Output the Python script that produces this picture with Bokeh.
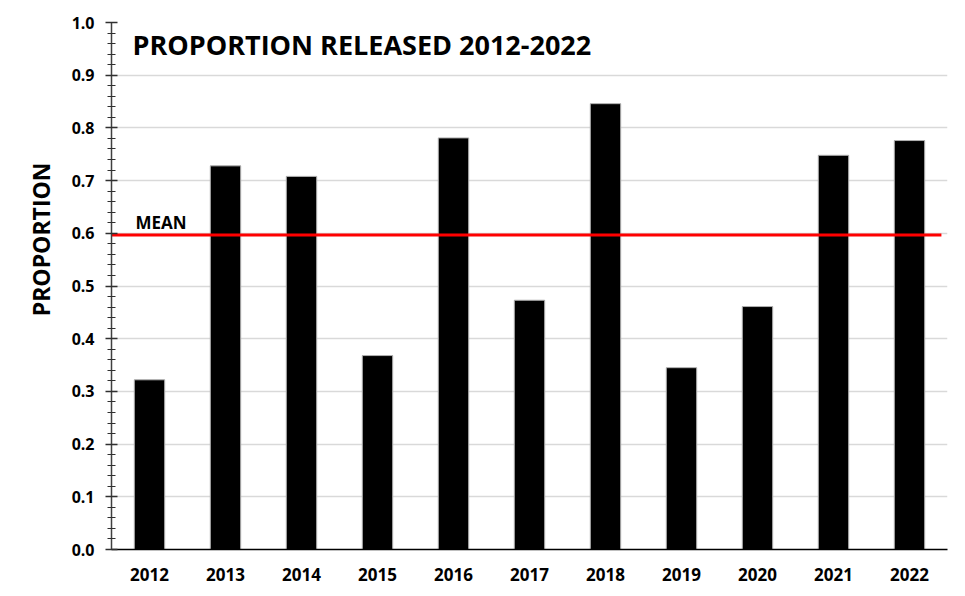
import numpy as np
from bokeh.plotting import figure
from bokeh.models import Range1d, FixedTicker, Label, Title, CustomJSTickFormatter
from bokeh.embed import file_html
from bokeh.resources import INLINE

years = ["2012", "2013", "2014", "2015", "2016", "2017", "2018", "2019", "2020", "2021", "2022"]
proportion = [0.322, 0.728, 0.708, 0.368, 0.781, 0.473, 0.846, 0.345, 0.461, 0.748, 0.776]
mean_value = 0.597
y_ticks = [0.0, 0.1, 0.2, 0.3, 0.4, 0.5, 0.6, 0.7, 0.8, 0.9, 1.0]

FONT = "Open Sans"
xs = list(range(len(years)))

p = figure(width=965, height=596, output_backend="svg", toolbar_location=None,
           x_range=Range1d(-0.5, len(years) - 0.5), y_range=Range1d(0, 1.0),
           min_border_left=111, min_border_right=18, min_border_top=22, min_border_bottom=47)
p.outline_line_color = None
p.background_fill_color = "white"
p.border_fill_color = "white"

p.vbar(x=xs, top=proportion, width=0.4, fill_color="black", line_color="#b0b0b0", line_width=1)

p.segment(x0=[-0.5], x1=[len(years) - 0.58], y0=[mean_value], y1=[mean_value],
          line_color="#ff0000", line_width=3)

# x axis
p.xaxis.ticker = FixedTicker(ticks=xs)
p.xaxis.major_label_overrides = {i: y for i, y in zip(xs, years)}
p.xaxis.major_tick_line_color = None
p.xaxis.minor_tick_line_color = None
p.xaxis.major_tick_out = 0
p.xaxis.major_tick_in = 0
p.xaxis.axis_line_color = "black"
p.xaxis.axis_line_width = 1.5
p.xaxis.major_label_text_font = FONT
p.xaxis.major_label_text_font_style = "bold"
p.xaxis.major_label_text_font_size = "17px"
p.xaxis.major_label_text_color = "black"
p.xaxis.major_label_standoff = 18
p.xgrid.grid_line_color = None

# y axis
p.yaxis.ticker = FixedTicker(ticks=y_ticks, minor_ticks=[i / 50 for i in range(51)])
p.yaxis.formatter = CustomJSTickFormatter(code="return tick.toFixed(1);")
p.yaxis.axis_line_color = "#404040"
p.yaxis.axis_line_width = 1.5
p.yaxis.major_tick_line_color = "#303030"
p.yaxis.major_tick_line_width = 1.5
p.yaxis.major_tick_out = 6
p.yaxis.major_tick_in = 6
p.yaxis.minor_tick_line_color = "#303030"
p.yaxis.minor_tick_line_width = 1
p.yaxis.minor_tick_out = 4
p.yaxis.minor_tick_in = 4
p.yaxis.major_label_text_font = FONT
p.yaxis.major_label_text_font_style = "bold"
p.yaxis.major_label_text_font_size = "16px"
p.yaxis.major_label_text_color = "black"
p.yaxis.major_label_standoff = 11
p.ygrid.grid_line_color = "#d9d9d9"
p.ygrid.grid_line_width = 1.5
p.ygrid.ticker = FixedTicker(ticks=y_ticks)

# y-axis title, placed in the left panel
p.add_layout(Title(text="PROPORTION", text_font=FONT, text_font_style="bold",
                   text_font_size="23px", text_color="black", align="right",
                   offset=140, standoff=24), "left")

# texts inside the frame (x in screen px relative to the plot frame)
p.add_layout(Label(x=21, y=0.958, x_units="screen", y_units="data",
                   text="PROPORTION RELEASED 2012-2022", text_font=FONT,
                   text_font_style="bold", text_font_size="27px", text_color="black",
                   text_baseline="middle", text_align="left"))
p.add_layout(Label(x=24, y=0.621, x_units="screen", y_units="data",
                   text="MEAN", text_font=FONT, text_font_style="bold",
                   text_font_size="17px", text_color="black",
                   text_baseline="middle", text_align="left"))

open("out.html", "w").write(file_html(p, INLINE))
